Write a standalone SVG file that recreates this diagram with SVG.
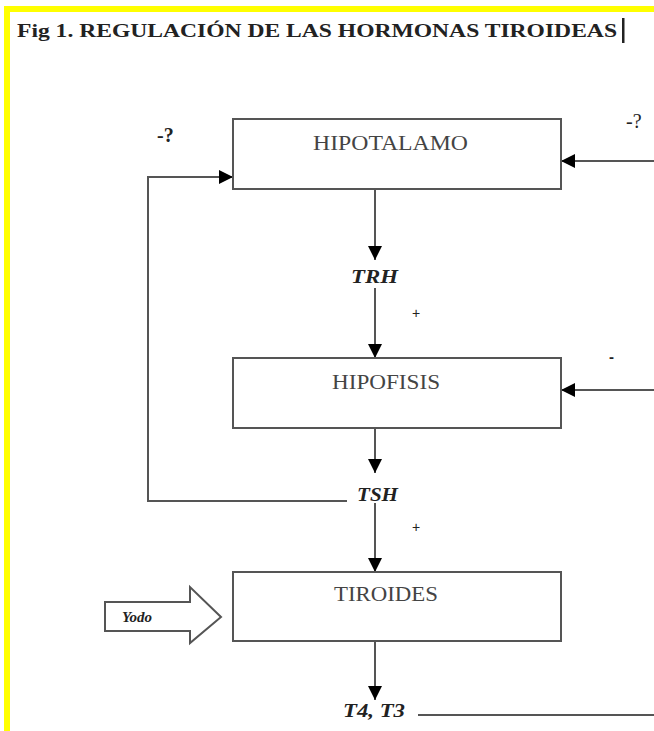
<svg xmlns="http://www.w3.org/2000/svg" width="654" height="731" viewBox="0 0 654 731">
<style>
.box{fill:#fff;stroke:#555;stroke-width:2}
.ln{fill:none;stroke:#555;stroke-width:2}
</style>
<defs>
<marker id="a" viewBox="0 0 10 10" refX="10" refY="5" markerWidth="14" markerHeight="14" markerUnits="userSpaceOnUse" orient="auto">
<path d="M0,0 L10,5 L0,10 z" fill="#000"/>
</marker>
</defs>
<rect width="654" height="731" fill="#fff"/>
<rect x="4" y="6" width="650" height="6" fill="#ffff00"/>
<rect x="4" y="6" width="6" height="725" fill="#ffff00"/>
<text x="17" y="37" font-family="Liberation Serif,serif" font-weight="bold" font-size="19" fill="#222" textLength="600" lengthAdjust="spacingAndGlyphs">Fig 1. REGULACIÓN DE LAS HORMONAS TIROIDEAS</text>
<rect x="622" y="18" width="2.5" height="25" fill="#222"/>

<g id="connectors">
<line class="ln" x1="375" y1="189" x2="375" y2="260" marker-end="url(#a)"/>
<line class="ln" x1="375" y1="288" x2="375" y2="358" marker-end="url(#a)"/>
<line class="ln" x1="375" y1="428" x2="375" y2="473" marker-end="url(#a)"/>
<line class="ln" x1="375" y1="503" x2="375" y2="572" marker-end="url(#a)"/>
<line class="ln" x1="375" y1="641" x2="375" y2="700" marker-end="url(#a)"/>
<polyline class="ln" points="347,501 148,501 148,177 233,177" marker-end="url(#a)"/>
<line class="ln" x1="654" y1="161" x2="561" y2="161" marker-end="url(#a)"/>
<line class="ln" x1="654" y1="390" x2="561" y2="390" marker-end="url(#a)"/>
<line class="ln" x1="418" y1="715" x2="654" y2="715"/>
<text x="157" y="142" font-family="Liberation Serif,serif" font-weight="bold" font-size="20" fill="#222">-?</text>
<text x="626" y="128" font-family="Liberation Serif,serif" font-size="20" fill="#222">-?</text>
<text x="609" y="362" font-family="Liberation Sans,sans-serif" font-weight="bold" font-size="15" fill="#222">-</text>
<text x="412" y="318" font-family="Liberation Sans,sans-serif" font-size="14" fill="#222">+</text>
<text x="412" y="532" font-family="Liberation Sans,sans-serif" font-size="14" fill="#222">+</text>
</g>

<g id="hipotalamo">
<rect class="box" x="233" y="119" width="328" height="70"/>
<text x="313" y="150" font-family="Liberation Serif,serif" font-size="20" fill="#444" textLength="155" lengthAdjust="spacingAndGlyphs">HIPOTALAMO</text>
</g>
<g id="trh">
<text x="351" y="283" font-family="Liberation Serif,serif" font-style="italic" font-weight="bold" font-size="19" fill="#222" textLength="47" lengthAdjust="spacingAndGlyphs">TRH</text>
</g>
<g id="hipofisis">
<rect class="box" x="233" y="358" width="328" height="70"/>
<text x="332" y="389" font-family="Liberation Serif,serif" font-size="20" fill="#444" textLength="108" lengthAdjust="spacingAndGlyphs">HIPOFISIS</text>
</g>
<g id="tsh">
<text x="357" y="501" font-family="Liberation Serif,serif" font-style="italic" font-weight="bold" font-size="19" fill="#222" textLength="41" lengthAdjust="spacingAndGlyphs">TSH</text>
</g>
<g id="tiroides">
<rect class="box" x="233" y="572" width="328" height="69"/>
<text x="334" y="601" font-family="Liberation Serif,serif" font-size="20" fill="#444" textLength="104" lengthAdjust="spacingAndGlyphs">TIROIDES</text>
</g>
<g id="yodo">
<path d="M105,602 L190,602 L190,587 L221,617 L190,643 L190,631 L105,631 Z" fill="#fff" stroke="#555" stroke-width="2"/>
<text x="122" y="622" font-family="Liberation Serif,serif" font-style="italic" font-weight="bold" font-size="15" fill="#222">Yodo</text>
</g>
<g id="t4t3">
<text x="343" y="717" font-family="Liberation Serif,serif" font-style="italic" font-weight="bold" font-size="19" fill="#222" textLength="62" lengthAdjust="spacingAndGlyphs">T4, T3</text>
</g>
</svg>
